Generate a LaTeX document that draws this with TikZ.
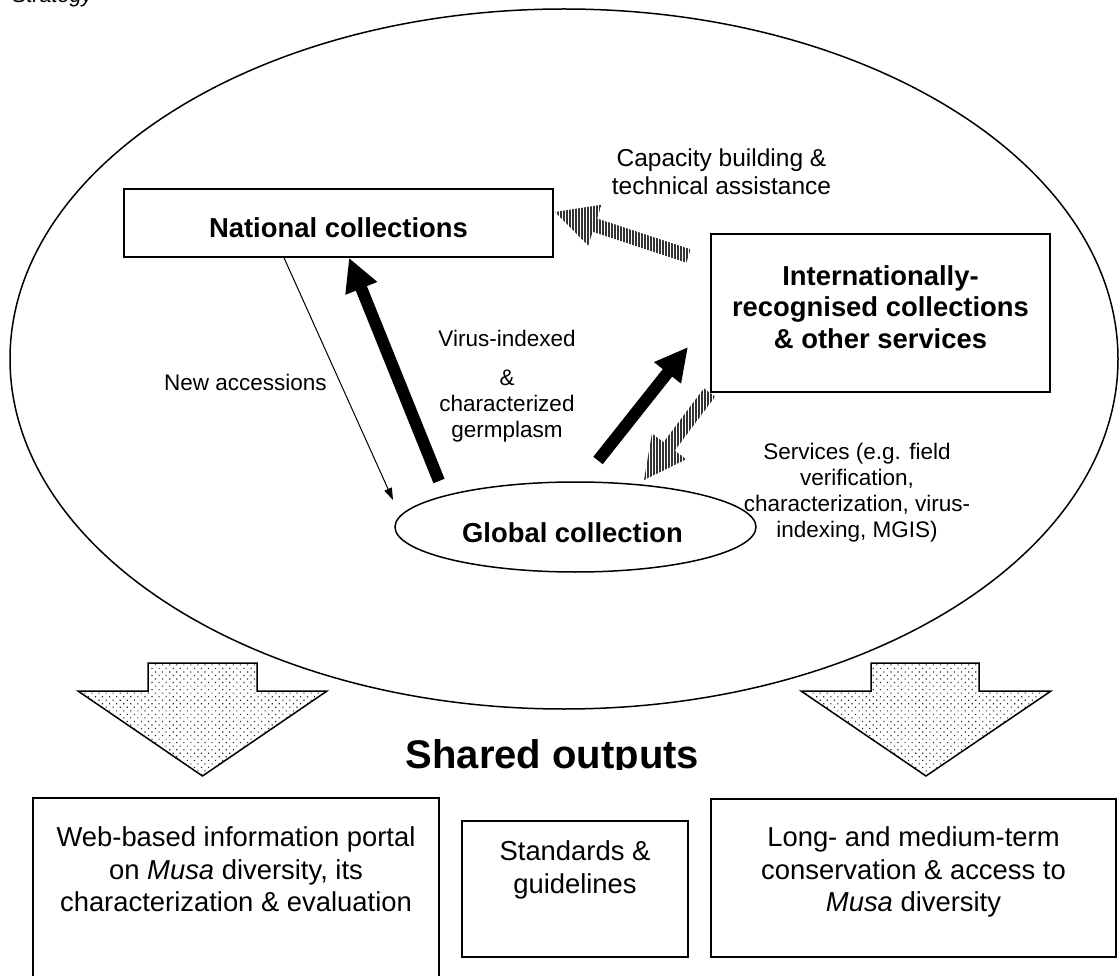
\documentclass[tikz,border=0pt]{standalone}
\usepackage{fontspec}
\setmainfont{Liberation Sans}
\usetikzlibrary{arrows.meta,patterns.meta,calc,shapes.geometric}
\newcommand\hatcharrow[2]{%
  \coordinate (#1b) at ($(#2)!42pt!(#1)$);
  \path[hatch] ($(#1)!7pt!90:(#2)$) -- ($(#1b)!7pt!90:(#2)$) -- ($(#1b)!21.5pt!90:(#2)$) -- (#2)
     -- ($(#1b)!21.5pt!-90:(#2)$) -- ($(#1b)!7pt!-90:(#2)$) -- ($(#1)!7pt!-90:(#2)$) -- cycle;}
\begin{document}
\begin{tikzpicture}[x=1pt,y=-1pt,
  box/.style={draw,line width=1.6pt,inner sep=0pt,rectangle},
  boxtext/.style={inner sep=0pt,align=center,font=\fontsize{27.4}{32.5}\selectfont},
  boldtext/.style={inner sep=0pt,align=center,font=\fontsize{27.4}{31.5}\selectfont\bfseries},
  lbl/.style={inner sep=0pt,align=center,font=\fontsize{22.5}{26}\selectfont},
  hatch/.style={pattern={Lines[angle=90,distance=3pt,line width=1.5pt]},pattern color=black!80},
  dotfill/.style={pattern={Dots[angle=45,distance=5pt,radius=0.8pt]},pattern color=black!85},
  bigarrow/.style={draw,line width=1.5pt,line join=miter},
  blackarrow/.style={line width=12pt,-{Triangle[length=33pt,width=32pt]}},
  thinarrow/.style={line width=1pt,-{Triangle[length=12pt,width=8pt]}},
  oval/.style={draw,ellipse,line width=1.5pt,inner sep=0pt}
]
\useasboundingbox (0,0) rectangle (1120,976);

% caption fragment (cut at the top edge, as in the source)
\node[anchor=base west,inner sep=0pt,font=\fontsize{21.5}{25}\selectfont\itshape] (strat) at (12,2.5) {Strategy};

% outer ellipse
\node[oval,minimum width=1108pt,minimum height=700pt] (outer) at (564,359) {};

% main nodes
\node[box,minimum width=429pt,minimum height=68pt] (nat) at (338.5,223) {};
\node[boldtext,anchor=base] (natT) at (338.5,237.5) {National collections};

\node[box,minimum width=339pt,minimum height=158pt] (intl) at (880.5,313) {};
\node[boldtext,anchor=north] (intlT) at (880.5,265.1) {Internationally-\\recognised collections\\\& other services};

\node[oval,minimum width=361pt,minimum height=90pt] (glob) at (575.5,527) {};
\node[boldtext,anchor=base] (globT) at (572.5,542.5) {Global collection};

% labels
\node[lbl,anchor=north,font=\fontsize{24.5}{28}\selectfont] (cap) at (721.5,148.5) {Capacity building \&\\technical assistance};
\node[lbl,anchor=north] (vir) at (507,329.8) {Virus-indexed\\[13pt]\&\\characterized\\germplasm};
\node[lbl,anchor=base] (newacc) at (245.5,391) {New accessions};
\node[lbl,anchor=north] (serv) at (857,442.6) {Services (e.g. field\\verification,\\characterization, virus-\\indexing, MGIS)};

% connectors
\coordinate (naE) at (393,500);
\draw[thinarrow] ([xshift=-54.5pt]nat.south) -- (naE);

\coordinate (b1S) at (439,481);
\draw[blackarrow] (b1S) -- ([xshift=10.5pt]nat.south);

\coordinate (b2S) at (598,460.5);
\coordinate (b2E) at (688,347);
\draw[blackarrow] (b2S) -- (b2E);

\coordinate (h1S) at (688.5,256);
\coordinate (h1E) at (555,212);
\hatcharrow{h1S}{h1E}

\coordinate (h2S) at (709.5,392.5);
\coordinate (h2E) at (644,480);
\hatcharrow{h2S}{h2E}

% big down arrows
\path[bigarrow,dotfill] (148,663) -- (257,663) -- (257,691) -- (327,691) -- (202.5,776) -- (78,691) -- (148,691) -- cycle;
\path[bigarrow,dotfill] (871,663) -- (979,663) -- (979,691) -- (1051,691) -- (926,776) -- (801,691) -- (871,691) -- cycle;

% shared outputs (clipped at its bottom as in the source)
\begin{scope}
\clip (380,700) rectangle (740,769.5);
\node[anchor=base,inner sep=0pt,font=\fontsize{40}{46}\selectfont\bfseries] (shared) at (552.5,768) {Shared outputs};
\end{scope}

% output boxes
\node[box,minimum width=406pt,minimum height=192pt] (web) at (236,894) {};
\node[boxtext,anchor=north] (webT) at (236,826.6) {Web-based information portal\\on \textit{Musa} diversity, its\\characterization \& evaluation};
\node[box,minimum width=226pt,minimum height=136pt] (std) at (575,889) {};
\node[boxtext,anchor=north] (stdT) at (575,840.6) {Standards \&\\guidelines};
\node[box,minimum width=405pt,minimum height=158pt] (cons) at (913.5,878) {};
\node[boxtext,anchor=north] (consT) at (913.5,826.6) {Long- and medium-term\\conservation \& access to\\\textit{Musa} diversity};
\end{tikzpicture}
\end{document}
